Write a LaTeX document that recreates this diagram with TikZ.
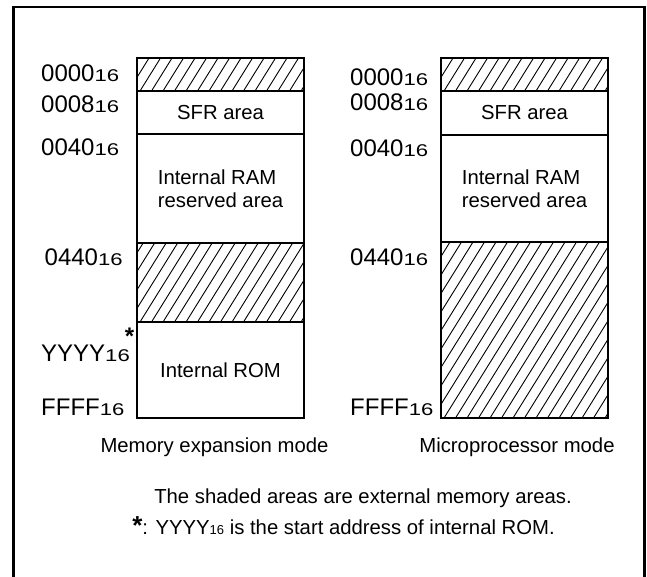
\documentclass[tikz,border=0pt]{standalone}
\usepackage{fontspec}
\setmainfont{Liberation Sans}
\newfontfamily\subfont[FakeStretch=1.3]{Liberation Sans}
\usetikzlibrary{positioning}
\newcommand{\addr}[2]{{\fontsize{24}{24}\selectfont #1}{\subfont\fontsize{17}{17}\selectfont #2}}

\begin{document}
\begin{tikzpicture}[x=1pt, y=-1pt,
  band/.style={draw, line width=2pt, minimum width=167pt, inner sep=0pt, align=left,
               font=\fontsize{20.3}{23}\selectfont},
  hatch/.style={path picture={
      \foreach \k in {0,...,26}
        \draw[line width=0.9pt] ([xshift=\k*11.5pt-112pt]path picture bounding box.south west) -- ++(112,-180);
    }},
  addrlab/.style={anchor=base west, inner sep=0pt},
  captext/.style={anchor=base, inner sep=0pt, font=\fontsize{20.3}{23}\selectfont}]
\useasboundingbox (0,0) rectangle (647,576);
\draw[line width=2.8pt] (13.5,580) -- (13.5,7) -- (644.5,7) -- (644.5,580);
% memory expansion mode
\node[band, hatch, minimum height=33pt] (L0) at (220.5,74.5) {};
\node[band, minimum height=43pt] (L1) at (220.5,112.5) {SFR area};
\node[band, minimum height=108.5pt] (L2) at (220.5,188.25) {Internal RAM\\reserved area};
\node[band, hatch, minimum height=79.5pt] (L3) at (220.5,282.25) {};
\node[band, minimum height=96pt] (L4) at (220.5,370) {Internal ROM};
\node[addrlab] (a0) at (41,81) {\addr{0000}{16}};
\node[addrlab] (a1) at (41,112) {\addr{0008}{16}};
\node[addrlab] (a2) at (41,155.5) {\addr{0040}{16}};
\node[addrlab] (a3) at (44.5,265.5) {\addr{0440}{16}};
\node[addrlab] (a4) at (41,361) {\addr{YYYY}{16}};
\node[anchor=base, inner sep=0pt, font=\bfseries\fontsize{24}{24}\selectfont] (ast) at (129.5,344) {*};
\node[addrlab] (a5) at (41,415) {\addr{FFFF}{16}};
\node[captext] (capL) at (214.5,452) {Memory expansion mode};
% microprocessor mode
\node[band, hatch, minimum height=33pt] (R0) at (524.5,74.5) {};
\node[band, minimum height=43.5pt] (R1) at (524.5,112.75) {SFR area};
\node[band, minimum height=107.5pt] (R2) at (524.5,188.25) {Internal RAM\\reserved area};
\node[band, hatch, minimum height=176pt] (R3) at (524.5,330) {};
\node[addrlab] (b0) at (350,85.5) {\addr{0000}{16}};
\node[addrlab] (b1) at (350,110.5) {\addr{0008}{16}};
\node[addrlab] (b2) at (350,156.5) {\addr{0040}{16}};
\node[addrlab] (b3) at (350,265.5) {\addr{0440}{16}};
\node[addrlab] (b4) at (350,415) {\addr{FFFF}{16}};
\node[captext] (capR) at (517,452) {Microprocessor mode};
% notes
\node[captext] (note1) at (363,503) {The shaded areas are external memory areas.};
\node[captext] (note2) at (343.5,534.5) {{\bfseries\fontsize{26}{26}\selectfont *}: YYYY{\fontsize{13}{13}\selectfont 16} is the start address of internal ROM.};
\end{tikzpicture}
\end{document}
